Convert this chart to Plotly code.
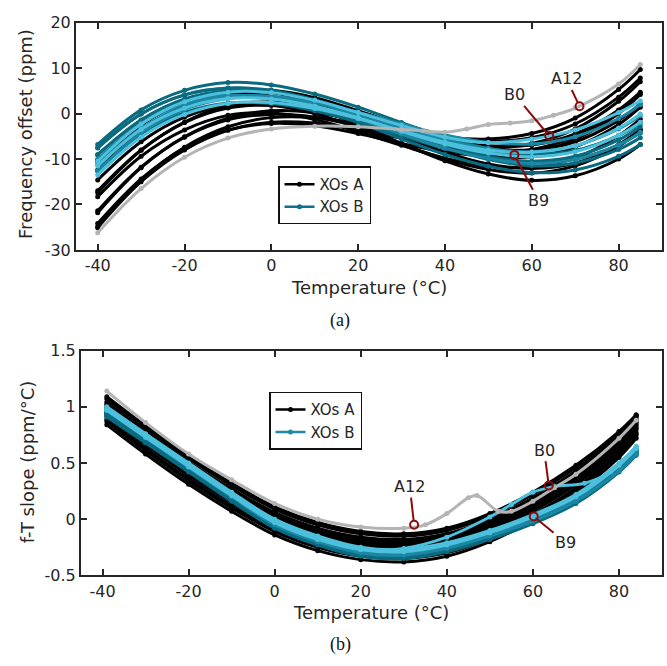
import plotly.graph_objects as go

# ---------------- data ----------------
TEMP_F = [-40, -30, -20, -10, 0, 10, 20, 30, 40, 50, 60, 70, 80, 85]
TEMP_S = [-39, -30, -20, -10, 0, 10, 20, 30, 40, 50, 60, 70, 80, 84]

A_NAMES = ["A0", "A1", "A2", "A3", "A4", "A5", "A6", "A7", "A8", "A9", "A10", "A11"]
A_FREQ = [
    [-10.2, -2.4, 2.4, 4.4, 3.8, 1.4, -2.4, -6.6, -10.4, -13.3, -14.7, -13.7, -10.0, -6.8],
    [-10.6, -2.5, 2.5, 4.9, 4.6, 2.4, -1.1, -4.9, -8.5, -11.1, -12.1, -10.9, -6.8, -3.5],
    [-14.6, -6.2, -0.8, 1.8, 1.8, 0.0, -3.2, -6.8, -10.0, -12.3, -13.1, -11.5, -7.2, -3.7],
    [-12.5, -3.8, 1.8, 4.8, 5.1, 3.5, 0.6, -2.6, -5.6, -7.6, -8.0, -6.2, -1.5, 2.1],
    [-17.0, -8.0, -2.0, 1.2, 1.8, 0.6, -2.0, -5.0, -7.6, -9.3, -9.5, -7.3, -2.4, 1.4],
    [-17.4, -8.1, -1.9, 1.7, 2.6, 1.6, -0.7, -3.3, -5.7, -7.1, -6.9, -4.5, 0.8, 4.7],
    [-21.4, -11.8, -5.2, -1.4, -0.2, -0.8, -2.8, -5.2, -7.2, -8.3, -7.9, -5.1, 0.4, 4.5],
    [-21.8, -11.9, -5.1, -1.0, 0.6, 0.2, -1.5, -3.5, -5.3, -6.1, -5.3, -2.3, 3.6, 7.8],
    [-25.1, -15.0, -8.0, -3.7, -1.9, -2.1, -3.6, -5.4, -7.0, -7.6, -6.6, -3.4, 2.7, 7.0],
    [-24.9, -14.6, -7.4, -2.9, -0.9, -0.9, -2.2, -3.8, -5.2, -5.6, -4.4, -1.0, 5.3, 9.7],
    [-24.2, -14.4, -7.6, -3.6, -2.2, -2.7, -4.4, -6.6, -8.4, -9.3, -8.7, -5.7, 0.0, 4.2],
    [-18.3, -9.4, -3.6, -0.4, 0.1, -1.3, -4.0, -7.0, -9.8, -11.6, -11.8, -9.8, -4.9, -1.2],
]
A_SLOPE = [
    [0.84, 0.58, 0.31, 0.07, -0.14, -0.28, -0.36, -0.38, -0.33, -0.20, -0.01, 0.23, 0.55, 0.72],
    [0.87, 0.61, 0.34, 0.10, -0.11, -0.25, -0.33, -0.35, -0.30, -0.17, 0.02, 0.26, 0.58, 0.75],
    [0.89, 0.63, 0.36, 0.12, -0.09, -0.23, -0.31, -0.33, -0.28, -0.15, 0.04, 0.28, 0.60, 0.77],
    [0.92, 0.66, 0.39, 0.15, -0.06, -0.20, -0.28, -0.30, -0.25, -0.12, 0.07, 0.31, 0.63, 0.80],
    [0.96, 0.70, 0.43, 0.19, -0.02, -0.16, -0.24, -0.26, -0.21, -0.08, 0.11, 0.35, 0.67, 0.84],
    [0.98, 0.72, 0.45, 0.21, 0.00, -0.14, -0.22, -0.24, -0.19, -0.06, 0.13, 0.37, 0.69, 0.86],
    [1.00, 0.74, 0.47, 0.23, 0.02, -0.12, -0.20, -0.22, -0.17, -0.04, 0.15, 0.39, 0.71, 0.88],
    [1.04, 0.78, 0.51, 0.27, 0.06, -0.08, -0.16, -0.18, -0.13, 0.00, 0.19, 0.43, 0.75, 0.92],
    [1.07, 0.81, 0.54, 0.30, 0.09, -0.05, -0.13, -0.15, -0.10, 0.03, 0.22, 0.46, 0.77, 0.92],
    [1.09, 0.83, 0.56, 0.32, 0.11, -0.03, -0.11, -0.13, -0.08, 0.05, 0.24, 0.48, 0.78, 0.93],
    [1.02, 0.76, 0.49, 0.25, 0.04, -0.10, -0.18, -0.20, -0.15, -0.02, 0.17, 0.41, 0.73, 0.90],
    [0.94, 0.68, 0.41, 0.17, -0.04, -0.18, -0.26, -0.28, -0.23, -0.10, 0.09, 0.33, 0.65, 0.82],
]

A12_TEMP_F = [-40, -30, -20, -10, 0, 10, 20, 30, 35, 40, 45, 50, 55, 60, 65, 70, 80, 85]
A12_FREQ = [-26.2, -16.5, -9.6, -5.4, -3.4, -2.8, -2.9, -3.5, -3.8, -4.1, -3.4, -2.4, -2.1, -1.6, -0.4, 1.2, 6.5, 10.8]
A12_TEMP_S = [-39, -30, -20, -10, 0, 10, 20, 30, 35, 40, 45, 47, 52, 55, 60, 65, 70, 80, 84]
A12_SLOPE = [1.14, 0.86, 0.58, 0.35, 0.14, 0.0, -0.07, -0.08, -0.05, 0.05, 0.19, 0.21, 0.07, 0.07, 0.16, 0.28, 0.40, 0.72, 0.88]

B_NAMES = ["B0", "B1", "B2", "B3", "B4", "B5", "B6", "B7", "B8", "B9", "B10", "B11"]
B_FREQ = [
    [-10.5, -2.3, 2.6, 4.7, 4.6, 2.9, 0.2, -2.6, -5.2, -6.4, -5.6, -3.6, 0.2, 2.8],
    [-6.8, 0.8, 5.1, 6.8, 6.3, 4.3, 1.4, -2.0, -5.2, -7.7, -8.8, -8.1, -4.9, -2.2],
    [-7.5, -0.1, 4.1, 5.5, 4.9, 2.7, -0.5, -4.1, -7.5, -10.1, -11.5, -10.9, -7.9, -5.3],
    [-12.7, -4.3, 0.9, 3.3, 3.7, 2.5, 0.3, -2.3, -4.7, -6.3, -6.7, -5.1, -1.1, 2.0],
    [-13.5, -5.2, -0.2, 2.2, 2.4, 1.1, -1.1, -3.8, -6.3, -8.1, -8.5, -7.1, -3.2, -0.1],
    [-9.0, -1.6, 2.6, 4.0, 3.4, 1.2, -2.0, -5.6, -9.0, -11.6, -13.0, -12.4, -9.4, -6.8],
    [-9.1, -1.4, 3.2, 5.0, 4.8, 3.0, 0.2, -3.0, -6.0, -8.2, -9.2, -8.2, -4.8, -2.0],
    [-12.5, -4.5, 0.2, 2.3, 2.2, 0.6, -1.9, -4.9, -7.7, -9.7, -10.5, -9.4, -5.8, -2.9],
    [-10.0, -2.3, 2.2, 3.9, 3.5, 1.6, -1.2, -4.5, -7.6, -9.9, -11.0, -10.1, -6.9, -4.1],
    [-11.5, -3.5, 1.2, 3.3, 3.2, 1.6, -0.9, -3.9, -6.7, -8.7, -9.5, -8.4, -4.8, -1.9],
    [-11.3, -3.3, 1.6, 3.7, 3.8, 2.3, -0.2, -3.1, -5.8, -7.7, -8.4, -7.1, -3.4, -0.5],
    [-7.6, -0.1, 4.1, 5.6, 5.1, 3.0, -0.1, -3.6, -6.8, -9.4, -10.6, -10.0, -6.9, -4.3],
]
B0_TEMP_S = [-39, -30, -20, -10, 0, 10, 20, 30, 40, 50, 55, 60, 65, 72, 78, 84]
B0_SLOPE = [0.97, 0.73, 0.47, 0.21, -0.03, -0.18, -0.27, -0.26, -0.16, 0.02, 0.13, 0.24, 0.29, 0.32, 0.42, 0.64]
B_SLOPE = [
    None,
    [0.92, 0.68, 0.42, 0.16, -0.08, -0.23, -0.33, -0.35, -0.29, -0.18, -0.04, 0.14, 0.42, 0.57],
    [0.93, 0.69, 0.43, 0.17, -0.07, -0.22, -0.32, -0.34, -0.28, -0.17, -0.03, 0.15, 0.43, 0.58],
    [0.97, 0.73, 0.47, 0.21, -0.03, -0.18, -0.28, -0.30, -0.24, -0.13, 0.01, 0.19, 0.47, 0.62],
    [1.00, 0.76, 0.50, 0.24, 0.00, -0.15, -0.25, -0.27, -0.21, -0.10, 0.04, 0.22, 0.50, 0.65],
    [0.94, 0.70, 0.44, 0.18, -0.06, -0.21, -0.31, -0.33, -0.27, -0.16, -0.02, 0.16, 0.44, 0.59],
    [0.96, 0.72, 0.46, 0.20, -0.04, -0.19, -0.29, -0.31, -0.25, -0.14, 0.00, 0.18, 0.46, 0.61],
    [0.95, 0.71, 0.45, 0.19, -0.05, -0.20, -0.30, -0.32, -0.26, -0.15, -0.01, 0.17, 0.45, 0.60],
    [0.99, 0.75, 0.49, 0.23, -0.01, -0.16, -0.26, -0.28, -0.22, -0.11, 0.03, 0.21, 0.49, 0.64],
    [0.98, 0.74, 0.48, 0.22, -0.02, -0.17, -0.27, -0.29, -0.23, -0.12, 0.02, 0.20, 0.48, 0.63],
    [0.98, 0.73, 0.46, 0.20, -0.05, -0.20, -0.30, -0.32, -0.26, -0.15, -0.02, 0.16, 0.43, 0.58],
    [0.91, 0.68, 0.43, 0.18, -0.05, -0.20, -0.29, -0.31, -0.24, -0.12, 0.03, 0.21, 0.48, 0.63],
]

# callouts: label, temperature, value (point marked on the curve)
CALLOUT_F_LABEL = ["A12", "B0", "B9"]
CALLOUT_F_TEMP = [71, 64, 56]
CALLOUT_F_VAL = [1.6, -4.9, -9.1]
CALLOUT_S_LABEL = ["A12", "B0", "B9"]
CALLOUT_S_TEMP = [32.4, 63.7, 60.2]
CALLOUT_S_VAL = [-0.05, 0.30, 0.025]

X_TICKS = [-40, -20, 0, 20, 40, 60, 80]
YF_TICKS = [-30, -20, -10, 0, 10, 20]
YS_TICKS = [-0.5, 0, 0.5, 1, 1.5]
X_TICKTEXT = ["-40", "-20", "0", "20", "40", "60", "80"]
YF_TICKTEXT = ["-30", "-20", "-10", "0", "10", "20"]
YS_TICKTEXT = ["-0.5", "0", "0.5", "1", "1.5"]

# ---------------- styling ----------------
W, H = 667, 666
FONT = "DejaVu Sans"
TXT = "#262626"
BLACK = "#000000"
DARK = "#0a6a80"
MID = "#1b87a3"
CYAN = "#4cc0dd"
GRAY = "#b4b4b4"
RED = "#8e0b0b"
B_SHADE = [CYAN, DARK, DARK, MID, CYAN, DARK, DARK, DARK, MID, CYAN, MID, DARK]
LW = 3.0
MS = 5

fig = go.Figure()


def add_curve(x, y, color, xa, ya):
    fig.add_trace(go.Scatter(
        x=x, y=y, mode="lines+markers", xaxis=xa, yaxis=ya, showlegend=False,
        line=dict(color=color, width=LW, shape="spline", smoothing=1.0),
        marker=dict(color=color, size=MS), hoverinfo="skip"))


# top panel
for vals in A_FREQ:
    add_curve(TEMP_F, vals, BLACK, "x", "y")
for shade_order in (DARK, MID, CYAN):
    for vals, shade in zip(B_FREQ, B_SHADE):
        if shade == shade_order:
            add_curve(TEMP_F, vals, shade, "x", "y")
add_curve(A12_TEMP_F, A12_FREQ, GRAY, "x", "y")

# bottom panel
for vals in A_SLOPE:
    add_curve(TEMP_S, vals, BLACK, "x2", "y2")
for shade_order in (DARK, MID, CYAN):
    for i, shade in enumerate(B_SHADE):
        if shade != shade_order:
            continue
        if B_SLOPE[i] is None:
            add_curve(B0_TEMP_S, B0_SLOPE, shade, "x2", "y2")
        else:
            add_curve(TEMP_S, B_SLOPE[i], shade, "x2", "y2")
add_curve(A12_TEMP_S, A12_SLOPE, GRAY, "x2", "y2")

# callout circles
fig.add_trace(go.Scatter(x=CALLOUT_F_TEMP, y=CALLOUT_F_VAL, mode="markers", xaxis="x", yaxis="y",
                         showlegend=False, hoverinfo="skip",
                         marker=dict(symbol="circle-open", size=8, color=RED, line=dict(width=2, color=RED))))
fig.add_trace(go.Scatter(x=CALLOUT_S_TEMP, y=CALLOUT_S_VAL, mode="markers", xaxis="x2", yaxis="y2",
                         showlegend=False, hoverinfo="skip",
                         marker=dict(symbol="circle-open", size=8, color=RED, line=dict(width=2, color=RED))))

# legend entries
for name, col, lg, xa, ya in [("XOs A", BLACK, "legend", "x", "y"), ("XOs B", "#0f7089", "legend", "x", "y"),
                              ("XOs A", BLACK, "legend2", "x2", "y2"), ("XOs B", "#2089a8", "legend2", "x2", "y2")]:
    fig.add_trace(go.Scatter(x=[None], y=[None], mode="lines+markers", name=name, legend=lg,
                             xaxis=xa, yaxis=ya, line=dict(color=col, width=2.5),
                             marker=dict(color=col, size=5)))

axis_style = dict(showline=True, linewidth=2, linecolor=TXT, mirror="ticks", ticks="inside",
                  ticklen=6, tickwidth=1.5, tickcolor=TXT, showgrid=False, zeroline=False,
                  tickfont=dict(family=FONT, size=16, color=TXT))

top_dom = [1 - 248 / H, 1 - 14 / H]
bot_dom = [1 - 583 / H, 1 - 351.7 / H]

fig.update_layout(
    width=W, height=H, margin=dict(l=0, r=0, t=0, b=0),
    paper_bgcolor="white", plot_bgcolor="white",
    font=dict(family=FONT, color=TXT),
    xaxis=dict(domain=[76 / W, 662 / W], range=[-45, 90], tickvals=X_TICKS, ticktext=X_TICKTEXT,
               anchor="y", **axis_style),
    yaxis=dict(domain=top_dom, range=[-30, 20], tickvals=YF_TICKS, ticktext=YF_TICKTEXT,
               anchor="x", **axis_style),
    xaxis2=dict(domain=[81 / W, 662 / W], range=[-45, 90], tickvals=X_TICKS, ticktext=X_TICKTEXT,
                anchor="y2", **axis_style),
    yaxis2=dict(domain=bot_dom, range=[-0.5, 1.5], tickvals=YS_TICKS, ticktext=YS_TICKTEXT,
                anchor="x2", **axis_style),
    legend=dict(x=278 / W, y=1 - 162 / H, xanchor="left", yanchor="top", bgcolor="white",
                bordercolor="#111111", borderwidth=1.5, font=dict(family=FONT, size=15, color=TXT),
                itemwidth=30, tracegroupgap=0),
    legend2=dict(x=269 / W, y=1 - 394 / H, xanchor="left", yanchor="top", bgcolor="white",
                 bordercolor="#111111", borderwidth=1.5, font=dict(family=FONT, size=15, color=TXT),
                 itemwidth=30, tracegroupgap=0),
)

ann = []
lab_pos_f = [(68, 7.6), (56.1, 4.1), (61.6, -19.2)]
for lab, t, v, (lx, ly) in zip(CALLOUT_F_LABEL, CALLOUT_F_TEMP, CALLOUT_F_VAL, lab_pos_f):
    ann.append(dict(x=t, y=v, xref="x", yref="y", ax=lx, ay=ly, axref="x", ayref="y", text=lab,
                    showarrow=True, arrowhead=0, arrowwidth=2, arrowcolor=RED, standoff=4,
                    font=dict(family=FONT, size=16, color=TXT)))
lab_pos_s = [(31.4, 0.29), (62.6, 0.615), (67.6, -0.21)]
for lab, t, v, (lx, ly) in zip(CALLOUT_S_LABEL, CALLOUT_S_TEMP, CALLOUT_S_VAL, lab_pos_s):
    ann.append(dict(x=t, y=v, xref="x2", yref="y2", ax=lx, ay=ly, axref="x2", ayref="y2", text=lab,
                    showarrow=True, arrowhead=0, arrowwidth=2, arrowcolor=RED, standoff=4,
                    font=dict(family=FONT, size=16, color=TXT)))

titles = [
    ("Frequency offset (ppm)", 25.6, 129, -90, FONT, 18),
    ("Temperature (°C)", 369, 287, 0, FONT, 18),
    ("(a)", 340, 321, 0, "Liberation Serif", 18),
    ("f-T slope (ppm/°C)", 27.6, 466, -90, FONT, 18),
    ("Temperature (°C)", 371, 621.7, 0, FONT, 18),
    ("(b)", 340, 654, 0, "Liberation Serif", 18),
]
for txt, px, py, ang, fam, sz in titles:
    ann.append(dict(x=px / W, y=1 - py / H, xref="paper", yref="paper", text=txt, showarrow=False,
                    textangle=ang, xanchor="center", yanchor="middle",
                    font=dict(family=fam, size=sz, color="#111111" if fam != FONT else TXT)))
fig.update_layout(annotations=ann)

fig.write_html("out.html")
